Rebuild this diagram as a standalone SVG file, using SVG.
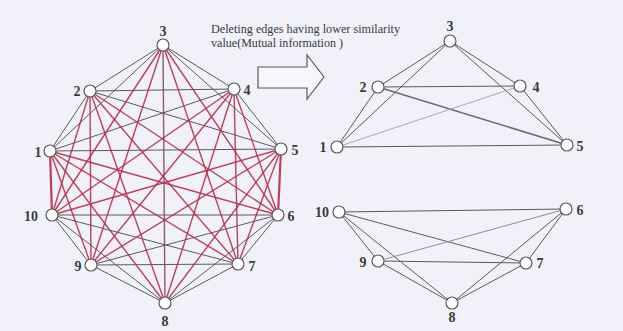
<svg xmlns="http://www.w3.org/2000/svg" width="623" height="331" viewBox="0 0 623 331">
<style>
.bg{fill:#f1f1f9}
.g{stroke:#5a5a5e;stroke-width:1;fill:none}
.r{stroke:#b82c48;stroke-width:1.4;fill:none;stroke-opacity:0.9}
.lt{stroke:#a8a8b0;stroke-width:1;fill:none}
.dk{stroke:#6a6a72;stroke-width:1.6;fill:none}
.n circle{fill:#ffffff;stroke:#5a5a5e;stroke-width:1.2}
.lbl{font-family:"Liberation Serif",serif;font-weight:bold;font-size:14px;fill:#3a3a3e;text-anchor:middle}
.cap{font-family:"Liberation Serif",serif;font-size:11.5px;fill:#3a3a3e}
</style>
<rect class="bg" x="0" y="0" width="623" height="331"/>
<g id="connectors">
<g id="left-grey">
<line class="g" x1="50" y1="151" x2="90" y2="91"/>
<line class="g" x1="50" y1="151" x2="163" y2="45"/>
<line class="g" x1="50" y1="151" x2="234" y2="89"/>
<line class="g" x1="50" y1="151" x2="281" y2="149"/>
<line class="g" x1="90" y1="91" x2="163" y2="45"/>
<line class="g" x1="90" y1="91" x2="234" y2="89"/>
<line class="g" x1="90" y1="91" x2="281" y2="149"/>
<line class="g" x1="163" y1="45" x2="234" y2="89"/>
<line class="g" x1="163" y1="45" x2="281" y2="149"/>
<line class="g" x1="234" y1="89" x2="281" y2="149"/>
<line class="g" x1="278" y1="215" x2="238" y2="264"/>
<line class="g" x1="278" y1="215" x2="165" y2="303"/>
<line class="g" x1="278" y1="215" x2="91" y2="265"/>
<line class="g" x1="278" y1="215" x2="52" y2="215"/>
<line class="g" x1="238" y1="264" x2="165" y2="303"/>
<line class="g" x1="238" y1="264" x2="91" y2="265"/>
<line class="g" x1="238" y1="264" x2="52" y2="215"/>
<line class="g" x1="165" y1="303" x2="91" y2="265"/>
<line class="g" x1="165" y1="303" x2="52" y2="215"/>
<line class="g" x1="91" y1="265" x2="52" y2="215"/>
</g>
<g id="left-red">
<line class="r" x1="50" y1="151" x2="278" y2="215"/>
<line class="r" x1="50" y1="151" x2="238" y2="264"/>
<line class="r" x1="50" y1="151" x2="165" y2="303"/>
<line class="r" x1="50" y1="151" x2="91" y2="265"/>
<line class="r" x1="50" y1="151" x2="52" y2="215" style="stroke-width:2.2"/>
<line class="r" x1="90" y1="91" x2="278" y2="215"/>
<line class="r" x1="90" y1="91" x2="238" y2="264"/>
<line class="r" x1="90" y1="91" x2="165" y2="303"/>
<line class="r" x1="90" y1="91" x2="91" y2="265"/>
<line class="r" x1="90" y1="91" x2="52" y2="215"/>
<line class="r" x1="163" y1="45" x2="278" y2="215"/>
<line class="r" x1="163" y1="45" x2="238" y2="264"/>
<line class="r" x1="163" y1="45" x2="165" y2="303" style="stroke:#8a4a58"/>
<line class="r" x1="163" y1="45" x2="91" y2="265"/>
<line class="r" x1="163" y1="45" x2="52" y2="215"/>
<line class="r" x1="234" y1="89" x2="278" y2="215"/>
<line class="r" x1="234" y1="89" x2="238" y2="264"/>
<line class="r" x1="234" y1="89" x2="165" y2="303"/>
<line class="r" x1="234" y1="89" x2="91" y2="265"/>
<line class="r" x1="234" y1="89" x2="52" y2="215"/>
<line class="r" x1="281" y1="149" x2="278" y2="215" style="stroke-width:2.2"/>
<line class="r" x1="281" y1="149" x2="238" y2="264"/>
<line class="r" x1="281" y1="149" x2="165" y2="303"/>
<line class="r" x1="281" y1="149" x2="91" y2="265"/>
<line class="r" x1="281" y1="149" x2="52" y2="215"/>
</g>
<g id="right-top-edges">
<line class="g" x1="450" y1="41" x2="378" y2="87"/>
<line class="g" x1="450" y1="41" x2="337" y2="147"/>
<line class="g" x1="450" y1="41" x2="520" y2="86"/>
<line class="g" x1="450" y1="41" x2="567" y2="145"/>
<line class="g" x1="378" y1="87" x2="520" y2="86"/>
<line class="g" x1="378" y1="87" x2="337" y2="147"/>
<line class="dk" x1="378" y1="87" x2="567" y2="145"/>
<line class="lt" x1="337" y1="147" x2="520" y2="86"/>
<line class="g" x1="337" y1="147" x2="567" y2="145"/>
<line class="g" x1="520" y1="86" x2="567" y2="145"/>
</g>
<g id="right-bottom-edges">
<line class="g" x1="339" y1="212" x2="566" y2="209"/>
<line class="g" x1="339" y1="212" x2="526" y2="263"/>
<line class="g" x1="339" y1="212" x2="378" y2="261"/>
<line class="g" x1="339" y1="212" x2="452" y2="303"/>
<line class="lt" x1="378" y1="261" x2="566" y2="209" style="stroke:#8e8e96"/>
<line class="g" x1="378" y1="261" x2="526" y2="263"/>
<line class="g" x1="378" y1="261" x2="452" y2="303"/>
<line class="g" x1="566" y1="209" x2="452" y2="303"/>
<line class="g" x1="566" y1="209" x2="526" y2="263"/>
<line class="g" x1="526" y1="263" x2="452" y2="303"/>
</g>
</g>
<g id="caption">
<text class="cap" x="211" y="33" textLength="189" lengthAdjust="spacingAndGlyphs">Deleting edges having lower similarity</text>
<text class="cap" x="211" y="47" textLength="132" lengthAdjust="spacingAndGlyphs">value(Mutual information )</text>
</g>
<g id="arrow">
<polygon points="258,67 307,67 307,55 324,77 307,99 307,88 258,88" fill="#f7f7fb" stroke="#5a5a5e" stroke-width="1.2"/>
</g>
<g id="L1" class="n"><circle cx="50" cy="151" r="6"/><text class="lbl" x="38" y="157">1</text></g>
<g id="L2" class="n"><circle cx="90" cy="91" r="6"/><text class="lbl" x="77" y="96">2</text></g>
<g id="L3" class="n"><circle cx="163" cy="45" r="6"/><text class="lbl" x="163" y="36">3</text></g>
<g id="L4" class="n"><circle cx="234" cy="89" r="6"/><text class="lbl" x="247" y="95">4</text></g>
<g id="L5" class="n"><circle cx="281" cy="149" r="6"/><text class="lbl" x="295" y="155">5</text></g>
<g id="L6" class="n"><circle cx="278" cy="215" r="6"/><text class="lbl" x="291" y="221">6</text></g>
<g id="L7" class="n"><circle cx="238" cy="264" r="6"/><text class="lbl" x="252" y="271">7</text></g>
<g id="L8" class="n"><circle cx="165" cy="303" r="6"/><text class="lbl" x="165" y="326">8</text></g>
<g id="L9" class="n"><circle cx="91" cy="265" r="6"/><text class="lbl" x="78" y="271">9</text></g>
<g id="L10" class="n"><circle cx="52" cy="215" r="6"/><text class="lbl" x="31" y="221">10</text></g>
<g id="R1" class="n"><circle cx="337" cy="147" r="6"/><text class="lbl" x="323" y="152">1</text></g>
<g id="R2" class="n"><circle cx="378" cy="87" r="6"/><text class="lbl" x="363" y="92">2</text></g>
<g id="R3" class="n"><circle cx="450" cy="41" r="6"/><text class="lbl" x="450" y="31">3</text></g>
<g id="R4" class="n"><circle cx="520" cy="86" r="6"/><text class="lbl" x="536" y="92">4</text></g>
<g id="R5" class="n"><circle cx="567" cy="145" r="6"/><text class="lbl" x="580" y="151">5</text></g>
<g id="R6" class="n"><circle cx="566" cy="209" r="6"/><text class="lbl" x="580" y="215">6</text></g>
<g id="R7" class="n"><circle cx="526" cy="263" r="6"/><text class="lbl" x="540" y="268">7</text></g>
<g id="R8" class="n"><circle cx="452" cy="303" r="6"/><text class="lbl" x="452" y="322">8</text></g>
<g id="R9" class="n"><circle cx="378" cy="261" r="6"/><text class="lbl" x="363" y="267">9</text></g>
<g id="R10" class="n"><circle cx="339" cy="212" r="6"/><text class="lbl" x="322" y="217">10</text></g>
</svg>
